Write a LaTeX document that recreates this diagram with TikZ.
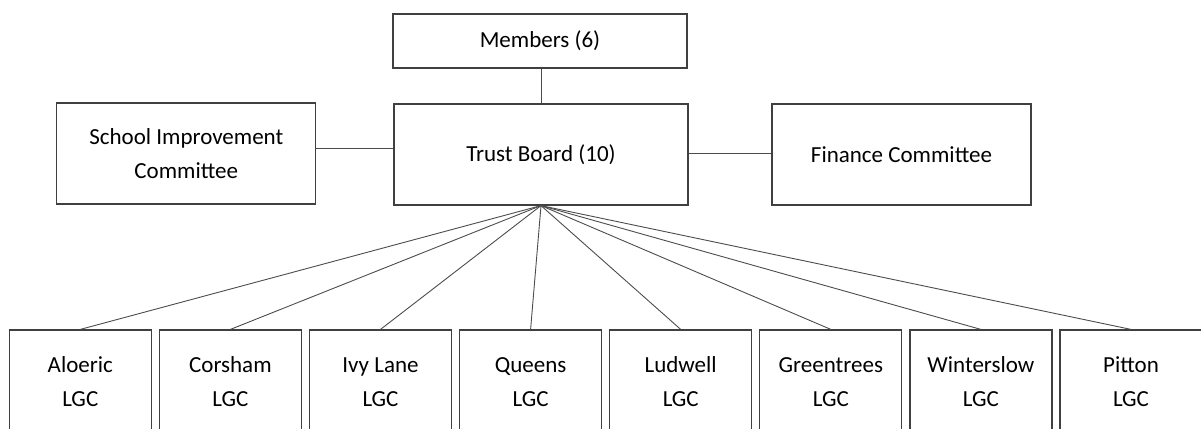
\documentclass[tikz,border=0pt]{standalone}
\usepackage{fontspec}
\setmainfont{Carlito}
\usepackage{tikz}
\usetikzlibrary{positioning}

\begin{document}
\begin{tikzpicture}[
			x=1pt, y=-1pt,
			font=\fontsize{23}{34}\selectfont,
			box/.style={draw=black!75, line width=1.2pt, align=center, inner sep=0pt},
			topbox/.style={box, minimum width=294pt, minimum height=101pt},
			sidebox/.style={box, minimum width=259pt, minimum height=101pt},
			lgcbox/.style={box, minimum width=142pt, minimum height=104pt},
			link/.style={draw=black!70, line width=0.9pt}
		]
		\useasboundingbox (0,0) rectangle (1201,428);
		% top of the trust
		\node[box, minimum width=294pt, minimum height=54pt] (members) at (540,41) {Members (6)};
		\node[topbox] (trust) at (541,154.5) {Trust Board (10)};
		\node[sidebox] (sic) at (186.3,153.5) {School Improvement\\Committee};
		\node[sidebox] (finance) at (901.5,154.5) {Finance Committee};
		% local governing committees
		\node[lgcbox] (aloeric) at (80.3,382) {Aloeric\\LGC};
		\node[lgcbox, right=6.9pt of aloeric] (corsham) {Corsham\\LGC};
		\node[lgcbox, right=6.9pt of corsham] (ivylane) {Ivy Lane\\LGC};
		\node[lgcbox, right=6.9pt of ivylane] (queens) {Queens\\LGC};
		\node[lgcbox, right=6.9pt of queens] (ludwell) {Ludwell\\LGC};
		\node[lgcbox, right=6.9pt of ludwell] (greentrees) {Greentrees\\LGC};
		\node[lgcbox, right=6.9pt of greentrees] (winterslow) {Winterslow\\LGC};
		\node[lgcbox, right=6.9pt of winterslow] (pitton) {Pitton\\LGC};

		\draw[link] (members.south -| trust.north) -- (trust.north);
		\draw[link] ([yshift=5pt]sic.east) -- ([yshift=6pt]trust.west);
		\draw[link] ([yshift=1pt]trust.east) -- ([yshift=1pt]finance.west);
		\draw[link] (trust.south) -- (aloeric.north);
		\draw[link] (trust.south) -- (corsham.north);
		\draw[link] (trust.south) -- (ivylane.north);
		\draw[link] (trust.south) -- (queens.north);
		\draw[link] (trust.south) -- (ludwell.north);
		\draw[link] (trust.south) -- (greentrees.north);
		\draw[link] (trust.south) -- (winterslow.north);
		\draw[link] (trust.south) -- (pitton.north);
	\end{tikzpicture}
\end{document}
